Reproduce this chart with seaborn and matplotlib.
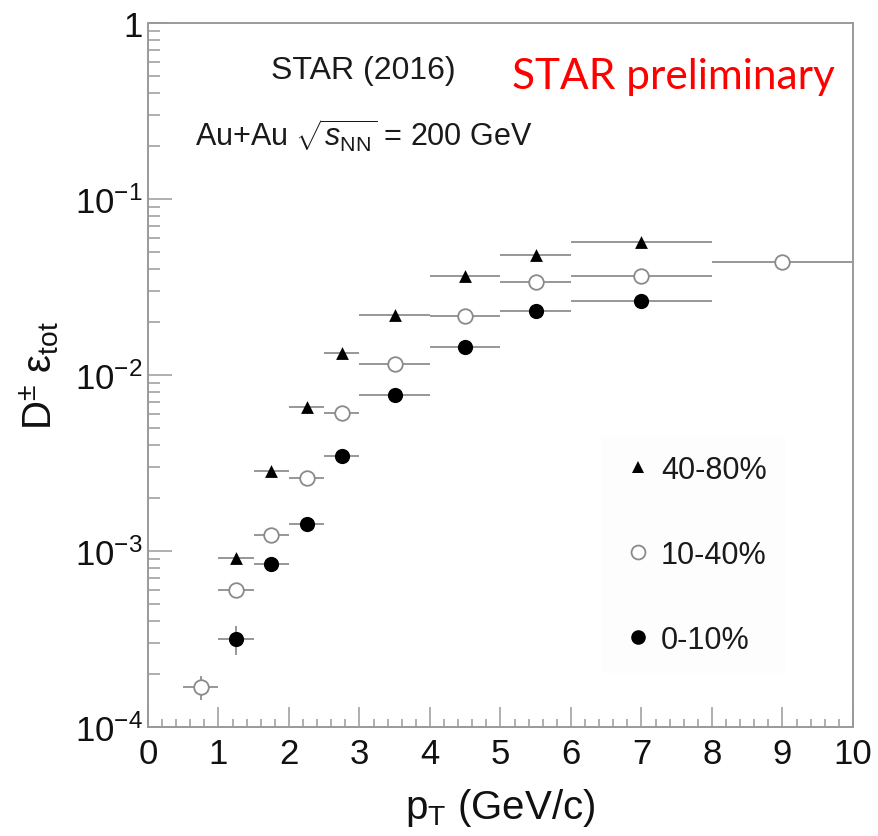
import numpy as np
import pandas as pd
import matplotlib
matplotlib.use("Agg")
import matplotlib.pyplot as plt
import seaborn as sns
from matplotlib.ticker import FixedLocator, FixedFormatter, MultipleLocator, NullFormatter
from matplotlib.lines import Line2D

# pT bins (GeV/c)
bin_low = [0.5, 1.0, 1.5, 2.0, 2.5, 3.0, 4.0, 5.0, 6.0, 8.0]
bin_high = [1.0, 1.5, 2.0, 2.5, 3.0, 4.0, 5.0, 6.0, 8.0, 10.0]
pt_center = [0.75, 1.25, 1.75, 2.25, 2.75, 3.5, 4.5, 5.5, 7.0, 9.0]

# total D+- efficiency per centrality class (NaN = not measured in that bin)
eff_40_80 = [np.nan, 9.1e-4, 2.85e-3, 6.6e-3, 1.33e-2, 2.19e-2, 3.65e-2, 4.8e-2, 5.7e-2, np.nan]
eff_10_40 = [1.69e-4, 6.0e-4, 1.23e-3, 2.6e-3, 6.08e-3, 1.155e-2, 2.16e-2, 3.37e-2, 3.65e-2, 4.39e-2]
eff_0_10 = [np.nan, 3.16e-4, 8.4e-4, 1.42e-3, 3.47e-3, 7.7e-3, 1.44e-2, 2.31e-2, 2.63e-2, np.nan]

# relative statistical uncertainties
relerr_40_80 = [np.nan, 0.06, 0.04, 0.03, 0.03, 0.02, 0.02, 0.02, 0.02, np.nan]
relerr_10_40 = [0.16, 0.07, 0.05, 0.04, 0.03, 0.03, 0.02, 0.02, 0.02, 0.02]
relerr_0_10 = [np.nan, 0.19, 0.09, 0.05, 0.04, 0.03, 0.02, 0.02, 0.02, np.nan]

centralities = ["40-80%", "10-40%", "0-10%"]
y_tick_values = [1e-4, 1e-3, 1e-2, 1e-1, 1]
y_tick_labels = [r"$10^{-4}$", r"$10^{-3}$", r"$10^{-2}$", r"$10^{-1}$", "1"]

frames = []
for cent, eff, rel in zip(centralities,
                          [eff_40_80, eff_10_40, eff_0_10],
                          [relerr_40_80, relerr_10_40, relerr_0_10]):
    frames.append(pd.DataFrame({
        "centrality": cent, "pt": pt_center, "lo": bin_low, "hi": bin_high,
        "eff": eff, "rel": rel,
    }))
df = pd.concat(frames, ignore_index=True).dropna()

sns.set_theme(style="ticks")
plt.rcParams["font.family"] = ["Liberation Sans", "DejaVu Sans"]
plt.rcParams["mathtext.fontset"] = "custom"
plt.rcParams["mathtext.rm"] = "Liberation Sans"
plt.rcParams["mathtext.it"] = "Liberation Sans:italic"
plt.rcParams["mathtext.bf"] = "Liberation Sans:bold"
plt.rcParams["mathtext.sf"] = "Liberation Sans"

fig = plt.figure(figsize=(8.79, 8.37), dpi=100)
fig.patch.set_facecolor("white")
ax = fig.add_axes([148 / 879, 1 - 728 / 837, 705 / 879, 704 / 837])

styles = {
    "40-80%": dict(marker="^", s=85, color="black", edgecolor="black", linewidth=0),
    "10-40%": dict(marker="o", s=110, color="white", edgecolor="#8a8a8a", linewidth=1.3),
    "0-10%": dict(marker="o", s=120, color="black", edgecolor="black", linewidth=0),
}
err_color = "#8f8f8f"

for cent in centralities:
    sub = df[df["centrality"] == cent]
    xerr = [sub["pt"] - sub["lo"], sub["hi"] - sub["pt"]]
    yerr = sub["eff"] * sub["rel"]
    ax.errorbar(sub["pt"], sub["eff"], xerr=xerr, yerr=yerr, fmt="none",
                ecolor=err_color, elinewidth=1.3, capsize=0, zorder=2)
    sns.scatterplot(data=sub, x="pt", y="eff", ax=ax, zorder=3, legend=False,
                    **styles[cent])

ax.set_yscale("log")
ax.set_xlim(0, 10)
ax.set_ylim(1e-4, 1)

ax.xaxis.set_major_locator(MultipleLocator(1))
ax.xaxis.set_minor_locator(MultipleLocator(0.2))
ax.yaxis.set_major_locator(FixedLocator(y_tick_values))
ax.yaxis.set_major_formatter(FixedFormatter(y_tick_labels))
minor_y = [m * 10.0 ** e for e in range(-4, 0) for m in range(2, 10)]
ax.yaxis.set_minor_locator(FixedLocator(minor_y))
ax.yaxis.set_minor_formatter(NullFormatter())

axis_gray = "#9a9a9a"
ax.tick_params(axis="x", which="major", direction="in", length=14.5, width=1.1,
               color=axis_gray, labelsize=25, pad=7, labelcolor="#111111")
ax.tick_params(axis="x", which="minor", direction="in", length=6, width=1.1,
               color=axis_gray)
ax.tick_params(axis="y", which="major", direction="in", length=17, width=1.1,
               color=axis_gray, labelsize=25, pad=4, labelcolor="#111111")
ax.tick_params(axis="y", which="minor", direction="in", length=8.6, width=1.1,
               color=axis_gray)
ax.tick_params(top=False, right=False, which="both")
for side in ["left", "bottom", "right", "top"]:
    ax.spines[side].set_visible(True)
    ax.spines[side].set_color(axis_gray)
    ax.spines[side].set_linewidth(1.4)

ax.set_xlabel(r"p$_{\rm T}$ (GeV/c)", fontsize=29, color="#111111", labelpad=12)
ax.set_ylabel(r"D$^{\pm}$ ε$_{\rm tot}$", fontsize=29, color="#111111", labelpad=10)

# annotations
fig.text(363 / 879, 1 - 79 / 837, "STAR (2016)", fontsize=23, ha="center",
         va="baseline", color="#1a1a1a")
fig.text(195 / 879, 1 - 147 / 837, r"Au+Au $\sqrt{s_{\rm NN}}$ = 200 GeV",
         fontsize=22, ha="left", va="baseline", color="#1a1a1a")
fig.text(512 / 879, 1 - 89 / 837, "STAR preliminary", fontsize=30.5, ha="left",
         va="baseline", color="#ff0000", family=["Lato", "DejaVu Sans"])

handles = [
    Line2D([], [], ls="none", marker="^", markersize=9, color="black", markeredgewidth=0),
    Line2D([], [], ls="none", marker="o", markersize=10, markerfacecolor="white",
           markeredgecolor="#8a8a8a", markeredgewidth=1.3),
    Line2D([], [], ls="none", marker="o", markersize=10.5, color="black", markeredgewidth=0),
]
leg = ax.legend(handles, centralities, loc="upper left",
                bbox_to_anchor=((586 - 148) / 705, (728 - 422) / 704),
                frameon=True, facecolor="#fdfdfd", edgecolor="none", fancybox=False,
                fontsize=22, labelspacing=1.8, handletextpad=0.15, handlelength=1.2,
                borderpad=0.6, framealpha=1)
for t in leg.get_texts():
    t.set_color("#1a1a1a")

fig.savefig("out.png", dpi=100, facecolor="white")
